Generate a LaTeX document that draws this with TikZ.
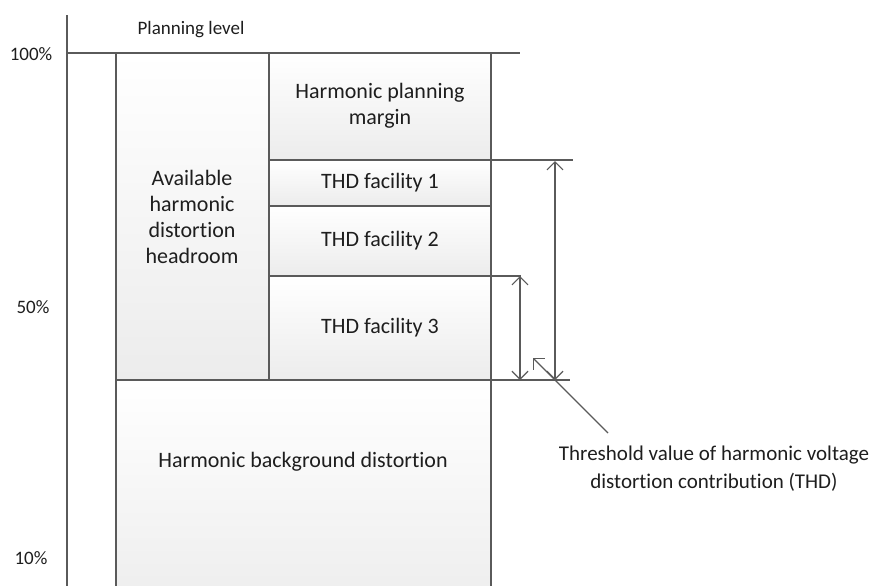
\documentclass[tikz,border=0pt]{standalone}
\usepackage{fontspec}
\setmainfont{Carlito}[RawFeature={-liga}]
\usetikzlibrary{arrows.meta}

\definecolor{linegray}{HTML}{5A5A5A}
\definecolor{boxgray}{HTML}{ECECEC}
\definecolor{textgray}{HTML}{1E1E1E}

\begin{document}
\begin{tikzpicture}[x=0.5pt, y=-0.5pt,
  box/.style={draw=linegray, line width=0.7pt, top color=white, bottom color=boxgray},
  guide/.style={draw=linegray, line width=0.6pt},
  dim/.style={draw=linegray, line width=0.6pt, {Straight Barb[length=4pt, width=8pt]}-{Straight Barb[length=4pt, width=8pt]}},
  txt/.style={text=textgray, align=center, font=\fontsize{11}{13}\selectfont},
  lbl/.style={text=textgray, font=\fontsize{9.5}{11}\selectfont},
  note/.style={text=textgray, align=center, font=\fontsize{10.5}{14}\selectfont}]
  \useasboundingbox (0,0) rectangle (879,585);
  \clip (0,0) rectangle (879,585);

  % stacked boxes
  \draw[box] (116,53) rectangle (269,380);
  \draw[box] (269,53) rectangle (491,160);
  \draw[box] (269,160) rectangle (491,206);
  \draw[box] (269,206) rectangle (491,276);
  \draw[box] (269,276) rectangle (491,380);
  \draw[box] (116,380) rectangle (491,620);

  % axis and planning level line
  \draw[guide, line width=0.8pt] (67,15) -- (67,590);
  \draw[guide, line width=0.8pt] (67,53) -- (520,53);

  % extension lines
  \draw[guide] (491,160) -- (573,160);
  \draw[guide] (491,276) -- (521,276);
  \draw[guide] (491,380) -- (570,380);

  % level labels
  \node[lbl] (planlvl) at (191,30) {Planning level};
  \node[lbl] (lvl100) at (31,54) {100\%};
  \node[lbl] (lvl50) at (33,307) {50\%};
  \node[lbl] (lvl10) at (31,558) {10\%};

  % box texts
  \node[txt] (headroom) at (192,217) {Available\\harmonic\\distortion\\headroom};
  \node[txt] (margin) at (380,106) {Harmonic planning\\margin};
  \node[txt] (fac1) at (380,183) {THD facility 1};
  \node[txt] (fac2) at (380,241) {THD facility 2};
  \node[txt] (fac3) at (380,328) {THD facility 3};
  \node[txt] (backgr) at (303,462) {Harmonic background distortion};

  % dimension arrows
  \coordinate (dimAtop) at (555,161);
  \coordinate (dimAbot) at (555,380);
  \coordinate (dimBtop) at (520,276);
  \coordinate (dimBbot) at (520,380);
  \draw[dim] (dimAtop) -- (dimAbot);
  \draw[dim] (dimBtop) -- (dimBbot);

  % threshold note with pointer
  \node[note] (thresh) at (714,469) {Threshold value of harmonic voltage\\distortion contribution (THD)};
  \coordinate (ptrtail) at (608,433);
  \coordinate (ptrhead) at (533,358);
  \draw[guide, -{Straight Barb[length=4pt, width=8pt]}] (ptrtail) -- (ptrhead);
\end{tikzpicture}
\end{document}
